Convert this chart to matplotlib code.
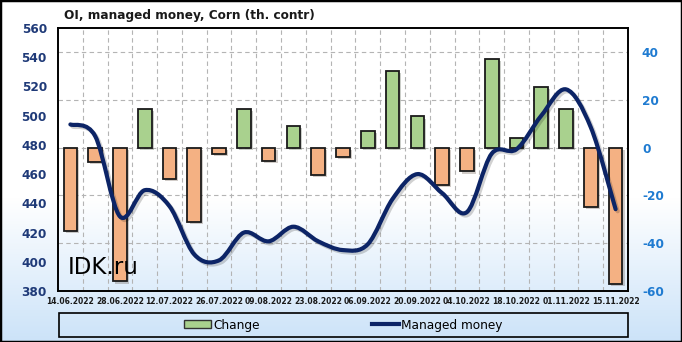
import numpy as np
import matplotlib.pyplot as plt
import matplotlib.patheffects as pe
from matplotlib.path import Path
from matplotlib.patches import PathPatch, Rectangle, Patch
from matplotlib.lines import Line2D

plt.rcParams['axes.unicode_minus'] = False
plt.rcParams['font.family'] = 'DejaVu Sans'

# weekly report dates
dates = ["14.06.2022", "21.06.2022", "28.06.2022", "05.07.2022", "12.07.2022",
         "19.07.2022", "26.07.2022", "02.08.2022", "09.08.2022", "16.08.2022",
         "23.08.2022", "30.08.2022", "06.09.2022", "13.09.2022", "20.09.2022",
         "27.09.2022", "04.10.2022", "11.10.2022", "18.10.2022", "25.10.2022",
         "01.11.2022", "08.11.2022", "15.11.2022"]

# change, th. contracts (right axis)
change = [-35, -6, -56, 16, -13, -31, -2.5, 16, -5.5, 9, -11.5, -4,
          7, 32, 13, -15.5, -10, 37, 4, 25.5, 16, -25, -57]

# managed money OI, th. contracts (left axis)
managed = [494, 486, 431, 449, 438, 405, 401, 420, 414, 424, 414, 408,
           412, 443, 460, 447, 434, 474, 477, 500, 518, 492, 436]

left_ticks = [380, 400, 420, 440, 460, 480, 500, 520, 540, 560]
right_ticks = [-60, -40, -20, 0, 20, 40]

green = '#a9d18e'
orange = '#f4b183'
navy = '#0c2466'

W, H = 682, 342
fig = plt.figure(figsize=(W / 100, H / 100), dpi=100)

# background: white fading to light blue at the bottom
bg = fig.add_axes([0, 0, 1, 1], zorder=-10)
yy = np.linspace(0, 1, 300)
t = np.clip((0.42 - yy) / 0.42, 0, 1)
top = np.array([1.0, 1.0, 1.0])
bot = np.array([0.80, 0.89, 0.975])
img = (top[None, :] * (1 - t[:, None]) + bot[None, :] * t[:, None])[:, None, :]
bg.imshow(img, aspect='auto', extent=[0, 1, 0, 1], origin='lower')
bg.axis('off')

ax = fig.add_axes([58 / W, 1 - 291 / H, 570 / W, 263 / H])
ax.set_facecolor('none')
x = np.arange(len(dates))
cols = [green if c > 0 else orange for c in change]
bars = ax.bar(x, change, width=0.55, color=cols, edgecolor='#1a1a1a', linewidth=1.3, zorder=3)
for b in bars:
    b.set_path_effects([pe.SimplePatchShadow(offset=(1.5, -1.5), alpha=0.25), pe.Normal()])

ax.set_xlim(-0.5, len(dates) - 0.5)
ax.set_ylim(-60, 50)
ax.set_xticks(x[::2])
ax.set_xticklabels(dates[::2], fontsize=5.5, fontweight='bold', color='#1a1a1a')
ax.set_xticks(np.arange(0.5, len(dates) - 1, 1), minor=True)
ax.tick_params(axis='x', which='both', length=0, pad=4)
ax.grid(which='minor', axis='x', color='#b4b4b4', linestyle=(0, (4, 3)), linewidth=0.8)
ax.grid(which='major', axis='y', color='#b4b4b4', linestyle=(0, (4, 3)), linewidth=0.8)
ax.set_axisbelow(True)

ax2 = ax.twinx()
ax2.set_ylim(380, 560)
ax2.set_yticks(left_ticks)
ax2.yaxis.tick_left()
ax2.tick_params(axis='y', length=0, pad=8, labelcolor='#1f3a78', labelsize=8.7)
for lab in ax2.get_yticklabels():
    lab.set_fontweight('bold')

# right axis for the change bars (after twinx, which moves it)
ax.yaxis.tick_right()
ax.set_yticks(right_ticks)
ax.tick_params(axis='y', length=0, pad=10, labelcolor='#1f7bd1', labelsize=8.7)
for lab in ax.get_yticklabels():
    lab.set_fontweight('bold')

# smoothed line, bezier control points from the neighbours
pts = np.column_stack([x, managed]).astype(float)
n = len(pts)
verts = [pts[0]]
codes = [Path.MOVETO]
for i in range(n - 1):
    p0 = pts[max(i - 1, 0)]
    p1 = pts[i]
    p2 = pts[i + 1]
    p3 = pts[min(i + 2, n - 1)]
    verts += [p1 + (p2 - p0) / 6, p2 - (p3 - p1) / 6, p2]
    codes += [Path.CURVE4] * 3
line = PathPatch(Path(verts, codes), fill=False, edgecolor=navy, linewidth=3, zorder=4,
                 capstyle='round', joinstyle='round')
line.set_path_effects([pe.SimpleLineShadow(offset=(1.5, -1.5), alpha=0.18), pe.Normal()])
ax2.add_patch(line)

for a in (ax, ax2):
    for s in a.spines.values():
        s.set_color('black')
        s.set_linewidth(1.2)

fig.text(64 / W, 1 - 15 / H, "OI, managed money, Corn (th. contr)", ha='left', va='center',
         fontsize=8.7, fontweight='bold', color='#1a1a1a')
fig.text(68 / W, 1 - 268 / H, "IDK.ru", ha='left', va='center', fontsize=16.5, color='black', zorder=10)

fig.patches.append(Rectangle((59 / W, 1 - 337 / H), 569 / W, 24 / H, transform=fig.transFigure,
                             fill=False, edgecolor='black', linewidth=1.2))
handles = [Patch(facecolor=green, edgecolor='#333333'), Line2D([], [], color=navy, linewidth=3)]
fig.legend(handles, ["Change", "Managed money"], loc='center', bbox_to_anchor=(343.5 / W, 1 - 325 / H),
           ncol=2, frameon=False, fontsize=8.7, columnspacing=9.3, handlelength=2.2,
           handletextpad=0.2, handleheight=0.6)

fig.patches.append(Rectangle((0, 0), 1, 1, transform=fig.transFigure, fill=False,
                             edgecolor='black', linewidth=2.5))

fig.savefig('out.png', dpi=100)
